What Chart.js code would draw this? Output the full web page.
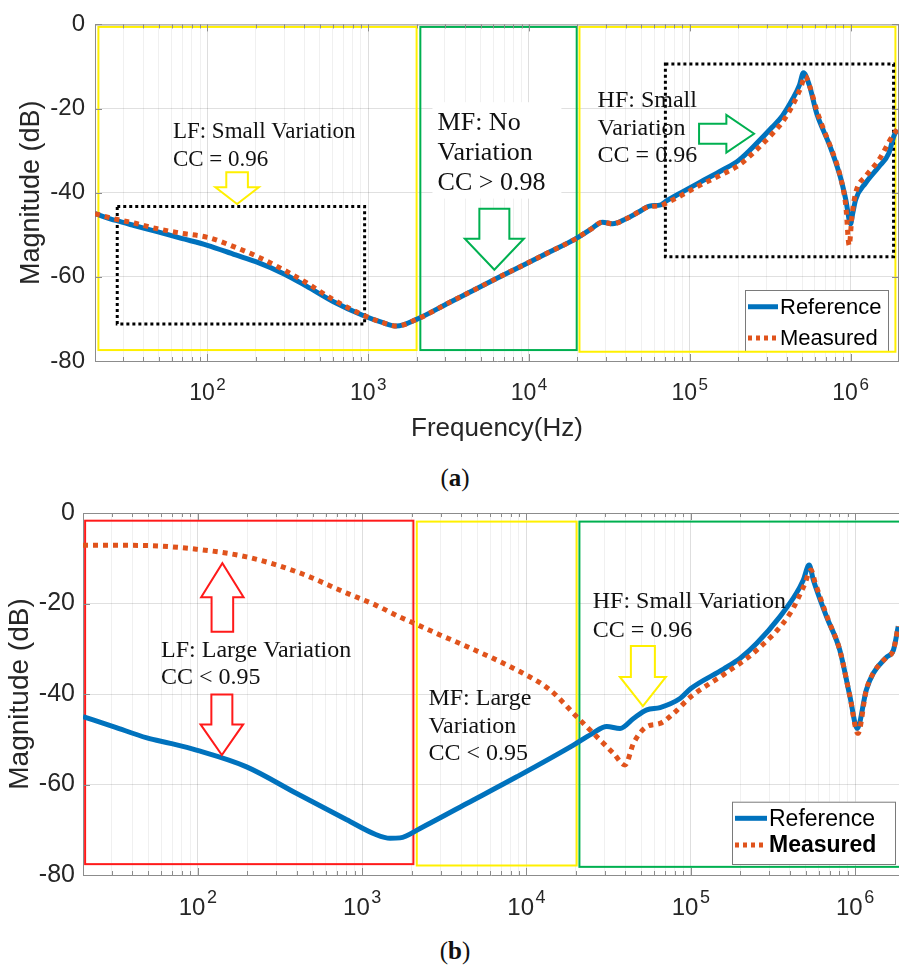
<!DOCTYPE html>
<html>
<head>
<meta charset="utf-8">
<script src="https://cdn.jsdelivr.net/npm/chart.js@4.4.1/dist/chart.umd.min.js"></script>
<style>
html,body{margin:0;padding:0;background:#fff;}
body{width:899px;height:970px;position:relative;overflow:hidden;}
canvas{position:absolute;left:0;}
#ca{top:0;}
#cb{top:490px;}
.cap{position:absolute;left:0;width:910px;text-align:center;font-family:"Liberation Serif",serif;font-size:25px;line-height:28px;color:#111;}
</style>
</head>
<body>
<canvas id="ca" width="899" height="445"></canvas>
<div class="cap" style="top:464px">(<b>a</b>)</div>
<canvas id="cb" width="899" height="445"></canvas>
<div class="cap" style="top:937px">(<b>b</b>)</div>
<script>
// ---------- data ----------
const seriesNames = ['Reference', 'Measured'];
const yTickValues = [0, -20, -40, -60, -80];
const xDecadeExponents = [2, 3, 4, 5, 6];

// (a) reference
const freqRefA = [20, 27, 35, 48, 68, 100, 150, 200, 300, 413, 600, 930, 1236, 1500, 2000, 3200, 6500, 13400, 19600, 24000, 28700, 33100, 40200, 48000, 56000, 66000, 72000, 90000, 114600, 160000, 203000, 257000, 326000, 377000, 435000, 480000, 509000, 552000, 617000, 677000, 747000, 861000, 933000, 1000000, 1030000, 1076000, 1240000, 1500000, 1730000, 1860000, 1950000];
const magRefA  = [-45.0, -46.6, -47.8, -49.2, -50.8, -52.5, -54.8, -56.4, -59.3, -62.2, -65.8, -69.2, -70.9, -71.7, -70.1, -66.1, -60.1, -54.1, -50.9, -48.8, -47.0, -47.4, -46.2, -44.6, -43.2, -42.9, -41.9, -39.8, -37.6, -34.6, -32.2, -28.5, -24.4, -21.7, -17.8, -14.5, -11.5, -14.3, -21.3, -25.2, -29.1, -36.1, -41.6, -47.4, -45.0, -41.6, -37.7, -33.8, -30.6, -26.5, -25.0];
// (a) measured
const freqMeasA = [20, 27, 35, 48, 68, 100, 150, 200, 300, 413, 600, 930, 1236, 1500, 2000, 3200, 6500, 13400, 19600, 24000, 28700, 33100, 40200, 48000, 56000, 66000, 72000, 90000, 114600, 160000, 203000, 257000, 326000, 377000, 435000, 490000, 522000, 560000, 617000, 677000, 747000, 861000, 933000, 980000, 1020000, 1076000, 1240000, 1500000, 1820000, 1950000];
const magMeasA  = [-45.0, -46.3, -47.2, -48.5, -49.6, -50.6, -53.0, -55.0, -58.4, -61.4, -65.3, -69.1, -70.9, -71.7, -70.1, -66.1, -60.1, -54.1, -50.9, -48.8, -47.0, -47.4, -46.2, -44.6, -43.3, -43.1, -42.4, -40.5, -38.3, -35.6, -33.4, -30.0, -26.0, -23.2, -19.3, -15.0, -12.3, -15.0, -20.5, -24.8, -28.9, -36.0, -43.0, -52.5, -45.5, -40.0, -36.1, -32.2, -26.5, -25.0];

// (b) reference
const freqRefB = [20, 30.6, 49, 68, 98, 198, 400, 806, 1200, 1479, 1700, 2250, 4330, 8730, 19300, 25000, 30800, 37100, 44800, 54000, 65000, 86000, 100000, 158000, 200000, 252000, 349000, 440000, 484000, 525000, 557000, 670000, 807000, 931000, 1030000, 1170000, 1290000, 1560000, 1710000, 1830000];
const magRefB  = [-45.0, -47.2, -49.7, -50.9, -52.4, -56.1, -62.0, -67.8, -71.0, -71.9, -71.8, -69.7, -64.2, -58.3, -51.3, -48.8, -47.2, -47.6, -45.4, -43.5, -43.0, -41.0, -38.8, -34.5, -32.1, -28.8, -22.9, -17.7, -14.8, -11.5, -14.8, -22.9, -30.3, -40.6, -47.6, -39.1, -35.4, -31.8, -30.3, -25.1];
// (b) measured
const freqMeasB = [20, 49, 98, 198, 400, 806, 1200, 1700, 2050, 3000, 4330, 8730, 13900, 20200, 28100, 33800, 39800, 44800, 54000, 65000, 78400, 100000, 160000, 252000, 402000, 490000, 539000, 570000, 680000, 807000, 931000, 1040000, 1170000, 1290000, 1560000, 1710000, 1830000];
const magMeasB  = [-7.1, -7.2, -8.0, -9.7, -13.0, -17.7, -20.3, -23.0, -24.3, -27.0, -29.5, -34.7, -39.1, -45.0, -50.2, -53.1, -55.7, -50.9, -47.2, -46.5, -44.3, -40.6, -35.6, -30.3, -22.2, -16.0, -12.6, -15.3, -23.2, -30.3, -40.6, -48.7, -39.1, -35.4, -31.8, -30.3, -25.0];

// ---------- annotation definitions (data coordinates) ----------
const YEL = '#FFF000', GRN = '#00B050', RED = '#FF1A1A';
const annotA = {
  bgBoxes: [{x1: 2510, x2: 15900, y1: -18.5, y2: -41.4}],
  rects: [
    {x1: 21, x2: 2000, y1: -0.6, y2: -77.4, color: YEL, width: 2},
    {x1: 2110, x2: 19800, y1: -0.6, y2: -77.4, color: GRN, width: 2},
    {x1: 20600, x2: 1.9e6, y1: -0.6, y2: -77.8, color: YEL, width: 2},
    {x1: 27.5, x2: 950, y1: -43.3, y2: -71.2, color: '#000', width: 3, dash: [3, 3]},
    {x1: 70500, x2: 1.85e6, y1: -9.4, y2: -55.2, color: '#000', width: 3, dash: [3, 3]}
  ],
  arrows: [
    {x: 153, y: -42.7, dir: 'down', L: 31.7, H: 16.7, W: 21.7, S: 10.8, color: YEL},
    {x: 6090, y: -58.3, dir: 'down', L: 61, H: 31, W: 29.5, S: 15, color: GRN},
    {x: 251000, y: -26, dir: 'right', L: 55, H: 27.7, W: 18.8, S: 10, color: GRN}
  ],
  texts: [
    {x: 61, y: -27.1, lines: ['LF: Small Variation', 'CC = 0.96'], size: 23, lh: 27.5},
    {x: 2700, y: -25.2, lines: ['MF: No', 'Variation', 'CC > 0.98'], size: 26, lh: 30},
    {x: 26700, y: -19.7, lines: ['HF: Small', 'Variation', 'CC = 0.96'], size: 24, lh: 27.5}
  ],
  legend: {x: 745, y: 290, w: 143, h: 61, size: 22, lx1: 748, lx2: 778, tx: 780, rows: [306.7, 338], boldSecond: false},
  tickSize: 23, supSize: 17, supRaise: 10, labelDrop: 39, rightBorder: true
};
const annotB = {
  bgBoxes: [],
  rects: [
    {x1: 20.6, x2: 2050, y1: -1.7, y2: -77.6, color: RED, width: 2},
    {x1: 2150, x2: 20200, y1: -1.9, y2: -77.9, color: YEL, width: 2},
    {x1: 21000, x2: 3e6, y1: -1.9, y2: -78.2, color: GRN, width: 2}
  ],
  arrows: [
    {x: 141, y: -11.1, dir: 'up', L: 68.4, H: 34, W: 21.2, S: 10.8, color: RED},
    {x: 140, y: -53.5, dir: 'down', L: 60.7, H: 30.7, W: 21.3, S: 10.5, color: RED},
    {x: 51100, y: -42.7, dir: 'down', L: 60.3, H: 29.3, W: 23, S: 12, color: YEL}
  ],
  texts: [
    {x: 59.7, y: -31.8, lines: ['LF: Large Variation', 'CC < 0.95'], size: 24, lh: 27.3},
    {x: 2530, y: -42.4, lines: ['MF: Large', 'Variation', 'CC < 0.95'], size: 24, lh: 27.8},
    {x: 25300, y: -21.1, lines: ['HF: Small Variation', 'CC = 0.96'], size: 24, lh: 28.4}
  ],
  legend: {x: 732, y: 311.7, w: 163, h: 62.3, size: 23, lx1: 735, lx2: 767, tx: 769, rows: [328.3, 355], boldSecond: true},
  tickSize: 24, supSize: 18, supRaise: 12, labelDrop: 40, rightBorder: false
};

// ---------- helpers ----------
const zip = (xs, ys) => xs.map((x, i) => ({x: x, y: ys[i]}));
const isDecade = v => Math.abs(Math.log10(v) - Math.round(Math.log10(v))) < 1e-9;
const AXIS = '#8c8c8c';

const annotPlugin = {
  id: 'annot',
  beforeDatasetsDraw(chart, args, o) {
    const {ctx, chartArea: ca, scales: {x, y}} = chart;
    ctx.save();
    ctx.beginPath(); ctx.rect(ca.left - 2, ca.top - 2, ca.right - ca.left + 4, ca.bottom - ca.top + 4); ctx.clip();
    ctx.fillStyle = '#fff';
    o.bgBoxes.forEach(b => {
      const px1 = x.getPixelForValue(b.x1), px2 = x.getPixelForValue(b.x2);
      const py1 = y.getPixelForValue(b.y1), py2 = y.getPixelForValue(b.y2);
      ctx.fillRect(px1, py1, px2 - px1, py2 - py1);
    });
    drawLegend(chart, o.legend);
    o.rects.forEach(r => {
      const px1 = x.getPixelForValue(r.x1), px2 = x.getPixelForValue(r.x2);
      const py1 = y.getPixelForValue(r.y1), py2 = y.getPixelForValue(r.y2);
      ctx.strokeStyle = r.color; ctx.lineWidth = r.width;
      ctx.setLineDash(r.dash || []);
      ctx.lineCap = 'butt';
      ctx.strokeRect(px1, py1, px2 - px1, py2 - py1);
    });
    ctx.setLineDash([]);
    ctx.restore();
  },
  afterDatasetsDraw(chart, args, o) {
    const {ctx, scales: {x, y}} = chart;
    ctx.save();
    o.arrows.forEach(a => {
      const tx = x.getPixelForValue(a.x), ty = y.getPixelForValue(a.y);
      const {L, H, W, S} = a;
      let pts;
      if (a.dir === 'down') pts = [[tx - S, ty - L], [tx + S, ty - L], [tx + S, ty - H], [tx + W, ty - H], [tx, ty], [tx - W, ty - H], [tx - S, ty - H]];
      else if (a.dir === 'up') pts = [[tx - S, ty + L], [tx + S, ty + L], [tx + S, ty + H], [tx + W, ty + H], [tx, ty], [tx - W, ty + H], [tx - S, ty + H]];
      else pts = [[tx - L, ty - S], [tx - H, ty - S], [tx - H, ty - W], [tx, ty], [tx - H, ty + W], [tx - H, ty + S], [tx - L, ty + S]];
      ctx.beginPath();
      pts.forEach((p, i) => i ? ctx.lineTo(p[0], p[1]) : ctx.moveTo(p[0], p[1]));
      ctx.closePath();
      ctx.fillStyle = '#fff'; ctx.fill();
      ctx.strokeStyle = a.color; ctx.lineWidth = 2; ctx.lineJoin = 'miter'; ctx.stroke();
    });
    ctx.fillStyle = '#111';
    ctx.textAlign = 'left'; ctx.textBaseline = 'alphabetic';
    o.texts.forEach(t => {
      const px = x.getPixelForValue(t.x), py = y.getPixelForValue(t.y);
      ctx.font = t.size + 'px "Liberation Serif", "Times New Roman", serif';
      t.lines.forEach((line, i) => ctx.fillText(line, px, py + i * t.lh));
    });
    ctx.restore();
  },
  afterDraw(chart, args, o) {
    const {ctx, chartArea: ca, scales: {x, y}} = chart;
    ctx.save();
    ctx.strokeStyle = AXIS; ctx.lineWidth = 1;
    ctx.beginPath();
    ctx.moveTo(ca.left, ca.top + 0.5); ctx.lineTo(ca.right, ca.top + 0.5);
    if (o.rightBorder) { ctx.moveTo(ca.right - 0.5, ca.top); ctx.lineTo(ca.right - 0.5, ca.bottom); }
    x.ticks.forEach(t => {
      const px = Math.round(x.getPixelForValue(t.value)) + 0.5;
      const len = isDecade(t.value) ? 7 : 4;
      ctx.moveTo(px, ca.bottom); ctx.lineTo(px, ca.bottom - len);
      ctx.moveTo(px, ca.top); ctx.lineTo(px, ca.top + len);
    });
    y.ticks.forEach(t => {
      const py = Math.round(y.getPixelForValue(t.value)) + 0.5;
      ctx.moveTo(ca.left, py); ctx.lineTo(ca.left + 7, py);
      if (o.rightBorder) { ctx.moveTo(ca.right, py); ctx.lineTo(ca.right - 7, py); }
    });
    ctx.stroke();
    ctx.fillStyle = '#262626';
    ctx.textBaseline = 'alphabetic'; ctx.textAlign = 'left';
    const baseFont = o.tickSize + 'px "Liberation Sans", Arial, sans-serif';
    const supFont = o.supSize + 'px "Liberation Sans", Arial, sans-serif';
    xDecadeExponents.forEach(e => {
      const v = Math.pow(10, e);
      if (v < x.min || v > x.max) return;
      const px = x.getPixelForValue(v);
      ctx.font = baseFont; const w1 = ctx.measureText('10').width;
      ctx.font = supFont; const w2 = ctx.measureText(String(e)).width;
      const gap = 1.5;
      const start = px - (w1 + gap + w2) / 2;
      const by = ca.bottom + o.labelDrop;
      ctx.font = baseFont; ctx.fillText('10', start, by);
      ctx.font = supFont; ctx.fillText(String(e), start + w1 + gap, by - o.supRaise);
    });
    ctx.restore();
  }
};

function drawLegend(chart, L) {
  const ctx = chart.ctx;
  ctx.save();
  ctx.setLineDash([]);
  ctx.fillStyle = '#fff';
  ctx.fillRect(L.x, L.y, L.w, L.h);
  ctx.strokeStyle = '#7a7a7a'; ctx.lineWidth = 1;
  ctx.strokeRect(L.x + 0.5, L.y + 0.5, L.w, L.h);
  chart.data.datasets.forEach((ds, i) => {
    const yy = L.rows[i];
    ctx.strokeStyle = ds.borderColor; ctx.lineWidth = 5; ctx.lineCap = 'butt';
    ctx.setLineDash(ds.borderDash ? [4, 4] : []);
    ctx.beginPath(); ctx.moveTo(L.lx1, yy); ctx.lineTo(L.lx2, yy); ctx.stroke();
    ctx.setLineDash([]);
    ctx.fillStyle = '#000';
    ctx.font = ((L.boldSecond && i === 1) ? 'bold ' : '') + L.size + 'px "Liberation Sans", Arial, sans-serif';
    ctx.textBaseline = 'middle'; ctx.textAlign = 'left';
    ctx.fillText(ds.label, L.tx, yy + 1);
  });
  ctx.restore();
}

function makeChart(id, cfg) {
  const H = 445;
  return new Chart(document.getElementById(id), {
    type: 'line',
    data: {
      datasets: [
        {label: seriesNames[0], data: zip(cfg.fr, cfg.mr), borderColor: '#0072BD', borderWidth: 5,
         pointRadius: 0, cubicInterpolationMode: 'monotone', fill: false, order: 2},
        {label: seriesNames[1], data: zip(cfg.fm, cfg.mm), borderColor: '#E0531C', borderWidth: 5,
         borderDash: [5, 5], borderCapStyle: 'butt', pointRadius: 0, cubicInterpolationMode: 'monotone', fill: false, order: 1}
      ]
    },
    options: {
      responsive: false, animation: false, devicePixelRatio: 1, events: [],
      layout: {padding: {top: cfg.top, left: 0, right: 0, bottom: 0}},
      plugins: {legend: {display: false}, tooltip: {enabled: false}, annot: cfg.annot},
      scales: {
        x: {
          type: 'logarithmic', min: 20, max: cfg.xmax,
          afterBuildTicks: s => {
            const t = [];
            for (let e = 1; e <= 6; e++) for (let m = 1; m < 10; m++) {
              const v = m * Math.pow(10, e);
              if (v >= s.min - 1e-9 && v <= s.max + 1e-9) t.push({value: v});
            }
            s.ticks = t;
          },
          afterFit: s => { s.height = H - cfg.bottom; },
          ticks: {display: false, callback: () => ''},
          grid: {drawTicks: false, color: c => (c.tick && isDecade(c.tick.value)) ? 'rgba(0,0,0,0.13)' : 'rgba(0,0,0,0.06)', lineWidth: 1},
          border: {display: true, color: AXIS, width: 1},
          title: {display: !!cfg.xTitle, text: cfg.xTitle || '', color: '#262626',
                  font: {family: '"Liberation Sans", Arial, sans-serif', size: 26}, padding: {top: 0, bottom: 1}}
        },
        y: {
          min: -80, max: 0,
          afterBuildTicks: s => { s.ticks = yTickValues.map(v => ({value: v})); },
          afterFit: s => { s.width = cfg.left; },
          ticks: {color: '#262626', padding: cfg.yPad, font: {family: '"Liberation Sans", Arial, sans-serif', size: cfg.yFont}},
          grid: {drawTicks: false, color: c => (c.tick && (c.tick.value === 0 || c.tick.value === -80)) ? 'rgba(0,0,0,0)' : 'rgba(0,0,0,0.12)'},
          border: {display: true, color: AXIS, width: 1},
          title: {display: true, text: 'Magnitude (dB)', color: '#262626',
                  font: {family: '"Liberation Sans", Arial, sans-serif', size: cfg.yTitleSize}, padding: {top: cfg.yTitlePad, bottom: 0}}
        }
      }
    },
    plugins: [annotPlugin]
  });
}

makeChart('ca', {fr: freqRefA, mr: magRefA, fm: freqMeasA, mm: magMeasA, xmax: 2e6, top: 19, bottom: 361, left: 95,
  yPad: 10, yFont: 24, yTitleSize: 27, yTitlePad: 15, xTitle: 'Frequency(Hz)', annot: annotA});
makeChart('cb', {fr: freqRefB, mr: magRefB, fm: freqMeasB, mm: magMeasB, xmax: 1.85e6, top: 23, bottom: 385, left: 83,
  yPad: 8, yFont: 25, yTitleSize: 28, yTitlePad: 3, xTitle: null, annot: annotB});
</script>
</body>
</html>
